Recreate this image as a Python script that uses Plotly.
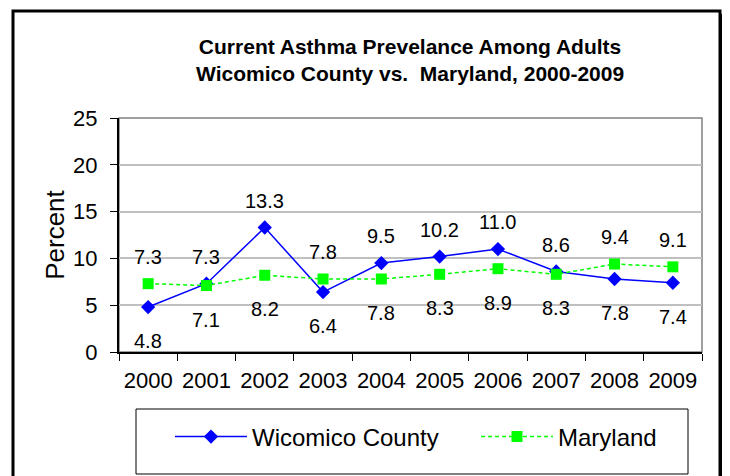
import plotly.graph_objects as go

years = ["2000", "2001", "2002", "2003", "2004", "2005", "2006", "2007", "2008", "2009"]
wicomico = [4.8, 7.3, 13.3, 6.4, 9.5, 10.2, 11.0, 8.6, 7.8, 7.4]
maryland = [7.3, 7.1, 8.2, 7.8, 7.8, 8.3, 8.9, 8.3, 9.4, 9.1]
# label placement: True = above point, False = below
wic_above = [False, True, True, False, True, True, True, True, False, False]
md_above = [True, False, False, True, False, False, False, False, True, True]

OFF = 8  # page body margin
W, H = 730 - OFF, 476 - OFF
# plot area in screen pixels
SL, SR, ST, SB = 119, 702, 118, 352
L, R, T, B = SL - OFF, SR - OFF, ST - OFF, SB - OFF

def px(sx):
    return (sx - SL) / (SR - SL)

def py(sy):
    return (SB - sy) / (SB - ST)

FONT = "Liberation Sans, Arial"

fig = go.Figure()
fig.add_trace(go.Scatter(
    x=years, y=wicomico, name="Wicomico County", mode="lines+markers",
    line=dict(color="#0000FF", width=1.5),
    marker=dict(symbol="diamond", size=11, color="#0000FF"),
    legend="legend",
))
fig.add_trace(go.Scatter(
    x=years, y=maryland, name="Maryland", mode="lines+markers",
    line=dict(color="#00FF00", width=1.5, dash="4px,3px"),
    marker=dict(symbol="square", size=11, color="#00FF00"),
    legend="legend2",
))

annotations = []
for ys, ab in ((wicomico, wic_above), (maryland, md_above)):
    for i, (y, a) in enumerate(zip(ys, ab)):
        annotations.append(dict(
            x=i, y=y, xref="x", yref="y", text=f"{y:.1f}", showarrow=False,
            yshift=27 if a else -34,
            font=dict(family=FONT, size=20, color="black"),
        ))

annotations.append(dict(
    x=px(410), y=py(60), xref="paper", yref="paper", xanchor="center", yanchor="middle",
    text="<b>Current Asthma Prevelance Among Adults<br>Wicomico County vs.  Maryland, 2000-2009</b>",
    showarrow=False,
    font=dict(family=FONT, size=21, color="black"),
))

shapes = [
    dict(type="rect", xref="paper", yref="paper", x0=px(13), x1=px(720), y0=py(11), y1=py(490),
         line=dict(color="black", width=3), layer="below"),
    dict(type="rect", xref="paper", yref="paper", x0=px(721), x1=px(728), y0=py(14), y1=py(490),
         line=dict(width=0), fillcolor="black", layer="below"),
    dict(type="rect", xref="paper", yref="paper", x0=0, x1=1, y0=0, y1=1,
         line=dict(color="#808080", width=1.5), layer="below"),
    dict(type="rect", xref="paper", yref="paper", x0=px(136), x1=px(688), y0=py(409), y1=py(474),
         line=dict(color="black", width=1), layer="below"),
]

leg_common = dict(
    orientation="h", yanchor="middle", xanchor="left", y=py(437),
    font=dict(family=FONT, size=24, color="black"), itemwidth=72,
    bgcolor="rgba(0,0,0,0)",
)

fig.update_layout(
    width=W, height=H,
    margin=dict(l=L, r=W - R, t=T, b=H - B, autoexpand=False),
    paper_bgcolor="white", plot_bgcolor="white",
    font=dict(family=FONT, color="black"),
    showlegend=True,
    legend=dict(x=px(170), **leg_common),
    legend2=dict(x=px(476), **leg_common),
    annotations=annotations,
    shapes=shapes,
    xaxis=dict(
        type="category", range=[-0.5, 9.5], tickson="boundaries", ticks="outside", ticklen=7,
        tickcolor="black", showline=True, linecolor="black", linewidth=2, showgrid=False,
        tickfont=dict(size=22), ticklabelstandoff=8, automargin=False,
    ),
    yaxis=dict(
        range=[0, 25], dtick=5, ticks="outside", ticklen=7, tickcolor="black",
        showline=True, linecolor="black", linewidth=2,
        showgrid=True, gridcolor="#C0C0C0", gridwidth=1.5, zeroline=False,
        tickfont=dict(size=22), ticklabelstandoff=8, automargin=False,
        title=dict(text="Percent", font=dict(size=26), standoff=1),
    ),
)

fig.write_html("out.html")
